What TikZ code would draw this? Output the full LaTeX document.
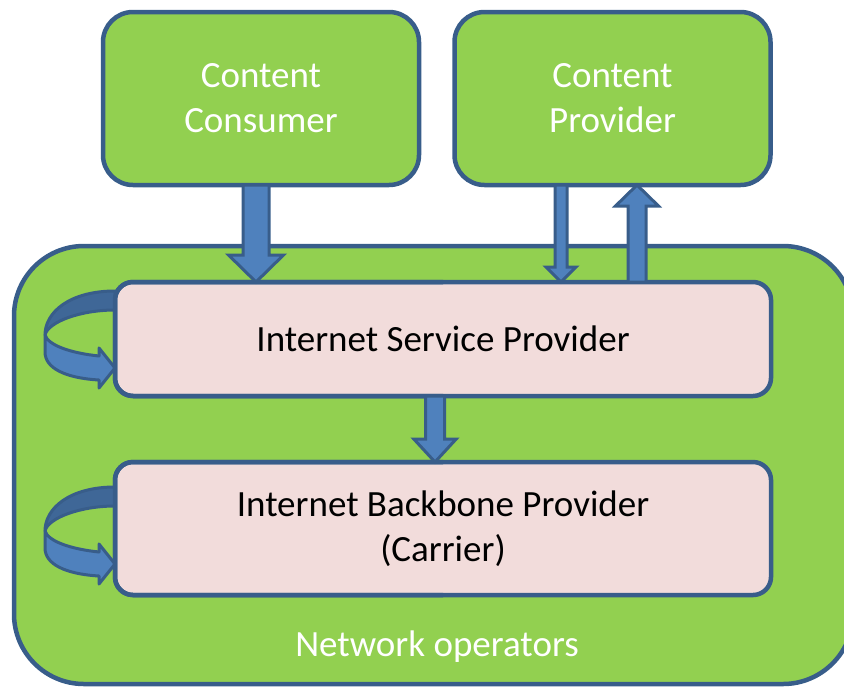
\documentclass[tikz,border=0pt]{standalone}
\usepackage{fontspec}
\setmainfont{Carlito}
\usetikzlibrary{positioning, calc}

\definecolor{opgreen}{HTML}{92D050}
\definecolor{edgeblue}{HTML}{385D8A}
\definecolor{arrowblue}{HTML}{4F81BD}
\definecolor{boxpink}{HTML}{F2DCDB}

\tikzset{
  boxfont/.style={font=\fontsize{18.5}{22.5}\selectfont},
  netbox/.style={draw=edgeblue, line width=2.25pt, fill=opgreen, rounded corners=35pt, outer sep=0pt},
  greenbox/.style={draw=edgeblue, line width=2.25pt, fill=opgreen, rounded corners=15pt, outer sep=0pt,
    text=white, align=center, boxfont, minimum width=158pt, minimum height=86.5pt},
  pinkbox/.style={draw=edgeblue, line width=2.25pt, fill=boxpink, rounded corners=9pt, outer sep=0pt,
    text=black, align=center, boxfont, minimum width=328pt},
  boxedge/.style={edgeblue, line width=2.25pt, rounded corners=9pt},
  blockarrow/.style={draw=edgeblue, line width=1.5pt, fill=arrowblue, line join=miter},
  loopfront/.style={draw=edgeblue, line width=1.5pt, fill=arrowblue, line join=round},
  loopback/.style={loopfront, fill=arrowblue!80!black}
}

% straight block arrow: start, end, half shaft, half head, head length
\newcommand{\blockarrow}[5]{%
  \draw[blockarrow] let \p1=#1, \p2=#2, \n1={sign(\y2-\y1)} in
    (\x1-#3,\y1) -- (\x1-#3,\y2-\n1*#5) -- (\x1-#4,\y2-\n1*#5) -- (\x1,\y2)
    -- (\x1+#4,\y2-\n1*#5) -- (\x1+#3,\y2-\n1*#5) -- (\x1+#3,\y1) -- cycle;}

% curved arrow that leaves a box on the left and comes back to it
\newcommand{\selfarrow}[2]{%
  \begin{scope}[shift={($(#1.north west)+(0,#2)$)}]
    \draw[loopback] (0,0) .. controls (-45,0) and (-70,21) .. (-70,44)
      .. controls (-67,31) and (-35,19) .. (0,19) -- cycle;
    \draw[loopfront] (-70,44) .. controls (-67,54) and (-45,62) .. (-16,65)
      -- (-16,57) -- (0,77) -- (-16,97) -- (-16,89)
      .. controls (-50,87) and (-70,77) .. (-70,61) -- cycle;
  \end{scope}}

\begin{document}
\begin{tikzpicture}[x=0.5pt, y=-0.5pt]
  \useasboundingbox (0,0) rectangle (844,686);
  \clip (0,0) rectangle (844,686);

  % network operators
  \node[netbox, minimum width=419.5pt, minimum height=219pt] (netop) at (433.5,465) {};
  \node[boxfont, text=white] (netlbl) at (437,647) {Network operators};

  % content side
  \node[greenbox] (cc) at (261,98.5) {Content\\Consumer};
  \node[greenbox] (cp) at (612.5,98.5) {Content\\Provider};

  % providers
  \node[pinkbox, minimum height=57pt] (isp) at (443,339) {Internet Service Provider};
  \node[pinkbox, minimum height=66.5pt] (ibp) at (443,528.5) {Internet Backbone Provider\\(Carrier)};
  \selfarrow{isp}{9}
  \selfarrow{ibp}{25}
  \draw[boxedge] (isp.north) -| (isp.west) |- (isp.south);
  \draw[boxedge] (ibp.north) -| (ibp.west) |- (ibp.south);

  % traffic
  \coordinate (a1) at ($(cc.south)+(-5,0)$);
  \coordinate (a2) at ($(cp.south)+(-51.5,0)$);
  \coordinate (a3) at ($(cp.south)+(24.5,0)$);
  \coordinate (a4) at ($(isp.south)+(-8,0)$);
  \blockarrow{(a1)}{(a1 |- isp.north)}{6.5pt}{13.75pt}{13.5pt}
  \blockarrow{(a2)}{(a2 |- isp.north)}{3pt}{7.5pt}{7.5pt}
  \blockarrow{(a3 |- isp.north)}{(a3)}{4.5pt}{10.75pt}{10.5pt}
  \blockarrow{(a4)}{(a4 |- ibp.north)}{4.75pt}{10.6pt}{11.5pt}
\end{tikzpicture}
\end{document}
